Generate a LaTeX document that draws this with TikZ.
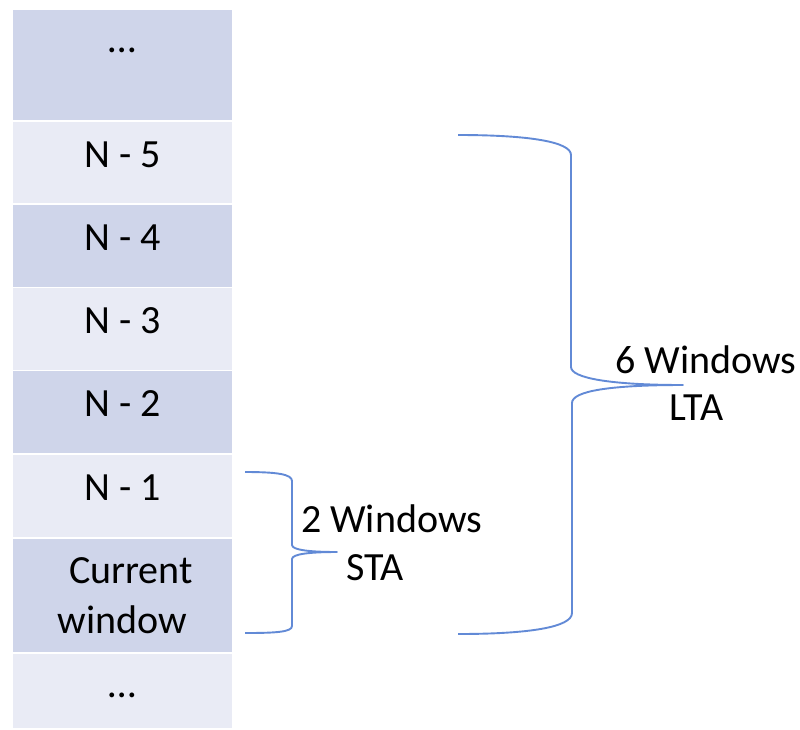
\documentclass[tikz,border=0pt]{standalone}
\usepackage{fontspec}
\setmainfont{Carlito}
\definecolor{rowdark}{HTML}{CFD5EA}
\definecolor{rowlight}{HTML}{E9EBF5}
\definecolor{bracecol}{HTML}{628AD6}
\begin{document}
\begin{tikzpicture}[x=1pt,y=-1pt,
  cell/.style={anchor=north west,inner sep=0pt,outer sep=0pt,minimum width=219pt},
  dark/.style={cell,fill=rowdark},
  light/.style={cell,fill=rowlight},
  lbl/.style={anchor=base,inner sep=0pt,font=\fontsize{40}{48}\selectfont},
  brace/.style={draw=bracecol,line width=1.9pt,line join=round}]
\useasboundingbox (0,0) rectangle (800,729);

% table rows
\node[dark,  minimum height=110pt] (r0) at (13,10)  {};
\node[light, minimum height=81pt]  (r1) at (13,122) {};
\node[dark,  minimum height=82pt]  (r2) at (13,205) {};
\node[light, minimum height=82pt]  (r3) at (13,288) {};
\node[dark,  minimum height=82pt]  (r4) at (13,371) {};
\node[light, minimum height=82pt]  (r5) at (13,455) {};
\node[dark,  minimum height=113pt] (r6) at (13,539) {};
\node[light, minimum height=74pt]  (r7) at (13,654) {};

% row texts
\node[lbl] (t0) at (122.5,52)  {…};
\node[lbl] (t1) at (122.5,167) {N - 5};
\node[lbl] (t2) at (122.5,250) {N - 4};
\node[lbl] (t3) at (122.5,333) {N - 3};
\node[lbl] (t4) at (122.5,416) {N - 2};
\node[lbl] (t5) at (122.5,500) {N - 1};
\node[lbl] (t6a) at (131,583)  {Current};
\node[lbl] (t6b) at (122.5,633) {window};
\node[lbl] (t7) at (122.5,697) {…};

% short-term brace
\coordinate (sTop) at (245,472);
\coordinate (sTip) at (337,552);
\coordinate (sBot) at (245,633);
\draw[brace] (sTop) .. controls (276,472) and (292,474) .. (292,481)
  -- (292,545) .. controls (292,550) and (310,552) .. (sTip)
  .. controls (310,552) and (292,554) .. (292,559)
  -- (292,626) .. controls (292,632) and (276,633) .. (sBot);

% long-term brace
\coordinate (lTop) at (458,135);
\coordinate (lTip) at (683,385);
\coordinate (lBot) at (458,634);
\draw[brace] (lTop) .. controls (530,135) and (571,142) .. (571,155)
  -- (571,367) .. controls (571,378) and (610,385) .. (lTip)
  .. controls (610,385) and (572,391) .. (572,403)
  -- (572,613) .. controls (572,627) and (530,634) .. (lBot);

% brace labels
\node[lbl] (sta1) at (391.5,532) {2 Windows};
\node[lbl] (sta2) at (375,580)   {STA};
\node[lbl] (lta1) at (706,373)   {6 Windows};
\node[lbl] (lta2) at (696.5,420) {LTA};
\end{tikzpicture}
\end{document}
